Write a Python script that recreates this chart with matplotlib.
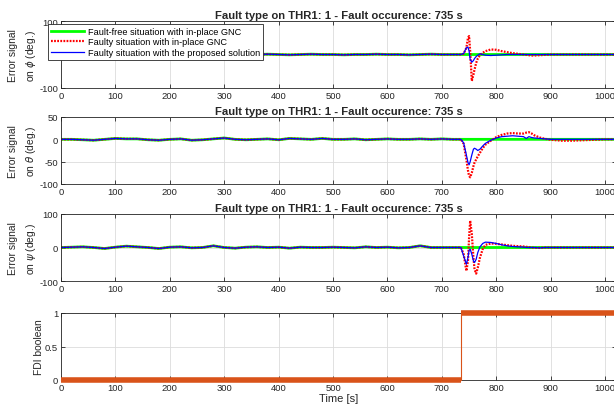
import numpy as np
import matplotlib
matplotlib.use("Agg")
import matplotlib.pyplot as plt
from matplotlib.ticker import FormatStrFormatter

plt.rcParams['font.family'] = ['Liberation Sans', 'DejaVu Sans']
plt.rcParams['mathtext.fontset'] = 'dejavusans'

# time grid: slow part before the fault, finer part after it
t_pre = [0, 20, 40, 60, 80, 100, 120, 140, 160, 180, 200, 220, 240, 260, 280, 300, 320, 340, 360,
         380, 400, 420, 440, 460, 480, 500, 520, 540, 560, 580, 600, 620, 640, 660, 680, 700, 720]
t_post = [735, 740, 745, 748, 750, 752, 755, 758, 760, 763, 766, 770, 775, 780, 790, 800, 810, 820,
          830, 840, 850, 855, 860, 865, 870, 880, 890, 900, 920, 940, 960, 980, 1000, 1020]

# phi error (deg.)
phi_pre = [0, 1, 0, -1, 0, 1, 0, -1, 0, 0, 1, 0, -1, 0, 1, 0, 0, -1, 0,
           1, 0, -1, 0, 1, 0, 0, -1, 0, 0, 1, 0, 0, -1, 0, 1, 0, 0]
phi_free = [0, 0, 0, 0, 0, 0, 0, 0, 0, 0, 0, 0, 0, 0, 0, 0, 0, 0,
            0, 0, 0, 0, 0, 0, 0, 0, 0, 0, 0, 0, 0, 0, 0, 0]
phi_gnc = [0, 2, 20, 50, 55, 10, -79, -60, -45, -25, -12, -2, 5, 10, 15, 14, 10, 7,
           4, 2, 0, -1, -2, -3, -3, -2, -1, 0, 0, 0, 0, 0, 0, 0]
phi_new = [0, 3, 20, 22, 10, -15, -23, -18, -12, -6, -2, 2, 0, -2, -3, -2, -1, 0,
           0, 0, 0, 0, 0, 0, 0, 0, 0, 0, 0, 0, 0, 0, 0, 0]

# theta error (deg.)
theta_pre = [0, 0, -1, -2, 0, 2, 1, 1, -1, -2, 0, 1, -2, -1, 1, 3, 0, -1, 0,
             1, -1, 2, 1, 0, 2, 0, 0, 1, -1, 0, 1, 0, 0, 1, 0, 1, 0]
theta_free = [0, 0, 0, 0, 0, 0, 0, 0, 0, 0, 0, 0, 0, 0, 0, 0, 0, 0,
              0, 0, 0, 0, 0, 0, 0, 0, 0, 0, 0, 0, 0, 0, 0, 0]
theta_gnc = [0, -10, -45, -70, -82, -85, -75, -60, -52, -45, -38, -30, -20, -12, -3, 5, 10, 13,
             14, 13, 13, 15, 16, 13, 9, 4, 1, -1, -3, -3, -2, -1, 0, 0]
theta_new = [0, -8, -35, -52, -57, -50, -35, -22, -20, -22, -25, -22, -15, -9, -2, 3, 6, 7,
             8, 7, 6, 2, 6, 4, 3, 2, 1, 0, 0, 0, 0, 0, 0, 0]

# psi error (deg.)
psi_pre = [0, 1, 2, 0, -3, 1, 4, 2, 0, -3, 1, 2, -1, 0, 5, 0, -2, 1, 2,
           0, 1, -2, 1, 0, 0, 1, 0, -1, 2, 0, 1, -1, 0, 5, 0, 0, 0]
psi_free = [0, 0, 0, 0, 0, 0, 0, 0, 0, 0, 0, 0, 0, 0, 0, 0, 0, 0,
            0, 0, 0, 0, 0, 0, 0, 0, 0, 0, 0, 0, 0, 0, 0, 0]
psi_gnc = [0, -20, -70, -40, 30, 80, 40, -30, -65, -78, -60, -30, -5, 8, 12, 11, 9, 7,
           5, 4, 3, 2, 1, 0, -1, -1, 0, 0, 0, 0, 0, 0, 0, 0]
psi_new = [0, -25, -50, -30, -8, -5, -20, -40, -45, -35, -15, 2, 12, 16, 15, 12, 8, 5,
           3, 2, 1, 0, 0, 0, 0, -1, 0, 0, 0, 0, 0, 0, 0, 0]

# FDI flag
fdi_t = [0, 735, 1020]
fdi_v = [0, 1, 1]

title = "Fault type on THR1: 1 - Fault occurence: 735 s"
labels = ["Fault-free situation with in-place GNC",
          "Faulty situation with in-place GNC",
          "Faulty situation with the proposed solution"]
ylabels = ["Error signal\non $\\phi$ (deg.)", "Error signal\non $\\theta$ (deg.)",
           "Error signal\non $\\psi$ (deg.)", "FDI boolean"]
ylims = [(-100, 100), (-100, 50), (-100, 100), (0, 1)]
yticks = [[-100, 0, 100], [-100, -50, 0, 50], [-100, 0, 100], [0, 0.5, 1]]
xticks = [0, 100, 200, 300, 400, 500, 600, 700, 800, 900, 1000]

dark = '#262626'
fig = plt.figure(figsize=(6.14, 4.14), dpi=100)
left = 61 / 614
width = (616 - 61) / 614
bottoms = [1 - 89 / 414, 1 - 185 / 414, 1 - 282 / 414, 1 - 381 / 414]
height = 67 / 414

t_all = np.array(t_pre + t_post)
series = [(phi_pre, phi_free, phi_gnc, phi_new),
          (theta_pre, theta_free, theta_gnc, theta_new),
          (psi_pre, psi_free, psi_gnc, psi_new)]

axes = []
for i in range(4):
    ax = fig.add_axes([left, bottoms[i], width, height])
    axes.append(ax)
    ax.set_xlim(0, 1020)
    ax.set_ylim(*ylims[i])
    ax.set_xticks(xticks)
    ax.set_yticks(yticks[i])
    ax.yaxis.set_major_formatter(FormatStrFormatter('%g'))
    ax.grid(True, color='#dcdcdc', linewidth=0.6)
    ax.set_axisbelow(True)
    ax.tick_params(direction='in', top=True, right=True, length=3, width=0.6,
                   labelsize=6.8, colors=dark, pad=2)
    for s in ax.spines.values():
        s.set_color(dark)
        s.set_linewidth(0.6)
    ax.set_ylabel(ylabels[i], fontsize=7.4, color=dark, labelpad=1, linespacing=1.6)

    if i < 3:
        pre, free, gnc, new = series[i]
        ax.plot(t_all, pre + free, color='#00ff00', lw=2, label=labels[0])
        ax.plot(t_all, pre + gnc, color='red', lw=1.6, ls=(0, (0.8, 0.6)), label=labels[1])
        ax.plot(t_all, pre + new, color='blue', lw=0.9, label=labels[2])
        ax.set_title(title, fontsize=8.1, fontweight='bold', color=dark, pad=2)
    else:
        # thick flat parts, thin jump at the fault instant
        ax.plot(fdi_t, fdi_v, color='#d95319', lw=0.8, drawstyle='steps-post',
                clip_on=False, zorder=5)
        for k in range(len(fdi_t) - 1):
            ax.plot([fdi_t[k], fdi_t[k + 1]], [fdi_v[k], fdi_v[k]], color='#d95319',
                    lw=4, solid_capstyle='butt', clip_on=False, zorder=5)
        ax.set_xlabel("Time [s]", fontsize=8, color=dark, labelpad=1)

leg = axes[0].legend(loc='upper left', bbox_to_anchor=(-0.023, 0.95), fontsize=6.6,
                     handlelength=3.6, borderpad=0.3, labelspacing=0.15, handletextpad=0.4,
                     fancybox=False, framealpha=1, edgecolor=dark, borderaxespad=0)
leg.get_frame().set_linewidth(0.6)

fig.savefig('out.png', dpi=100)
